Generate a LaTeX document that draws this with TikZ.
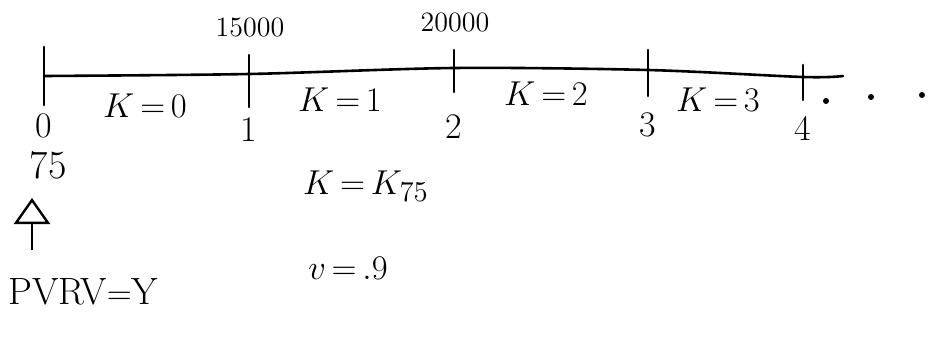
\documentclass[tikz,border=0pt]{standalone}
\usepackage{amsmath}
\usepackage{tikz}
\usetikzlibrary{positioning, arrows.meta}

\begin{document}
\begin{tikzpicture}[
      x=0.5pt, y=-0.5pt,
      axis/.style={line width=1.3pt, line cap=round},
      tick/.style={line width=1.3pt, line cap=round},
      big/.style={inner sep=0pt, font=\fontsize{19}{21}\selectfont},
      num/.style={inner sep=0pt, font=\fontsize{18}{20}\selectfont},
      amt/.style={inner sep=0pt, font=\fontsize{14}{16}\selectfont},
      up/.style={line width=1.3pt, -{Triangle[open, length=13pt, width=18pt, line width=1.2pt]}}
    ]
    \useasboundingbox (0,0) rectangle (928,337);

    % time points on the line
    \coordinate (t0) at (44,76);
    \coordinate (t1) at (249,74);
    \coordinate (t2) at (454,68);
    \coordinate (t3) at (648,70);
    \coordinate (t4) at (803,77);
    \coordinate (tend) at (843,76);

    \draw[axis] plot[smooth, tension=0.5] coordinates
      {(t0) (t1) (t2) (t3) (t4) (tend)};

    \draw[tick] (44,47) -- (44,105);
    \draw[tick] (249,55) -- (249,107);
    \draw[tick] (454,50) -- (454,92);
    \draw[tick] (648,50) -- (648,96);
    \draw[tick] (803,65) -- (803,100);

    \node[num] (n0) at (44,126) {0};
    \node[num] (n1) at (249,130) {1};
    \node[num] (n2) at (454,127) {2};
    \node[num] (n3) at (648,125) {3};
    \node[num] (n4) at (803,128) {4};

    \node[amt] (c1) at (250,27) {15000};
    \node[amt] (c2) at (455,22) {20000};

    \node[big] (k0) at (145,106) {$K\,{=}\,0$};
    \node[big] (k1) at (340,100) {$K\,{=}\,1$};
    \node[big] (k2) at (546,94) {$K\,{=}\,2$};
    \node[big] (k3) at (718,100) {$K\,{=}\,3$};

    \fill (826,101) circle (1.5pt);
    \fill (871,97) circle (1.5pt);
    \fill (922,95) circle (1.5pt);

    \node[num, font=\fontsize{20}{22}\selectfont] (age) at (48,165) {75};
    \coordinate (abot) at (32,250);
    \coordinate (atop) at (32,198);
    \draw[up] (abot) -- (atop);

    \node[big, anchor=west] (pv) at (8,292) {PVRV${=}$Y};
    \node[big] (kk) at (366,186) {$K\,{=}\,K_{75}$};
    \node[big] (vv) at (348,268) {$v\,{=}\,.9$};
  \end{tikzpicture}
\end{document}
